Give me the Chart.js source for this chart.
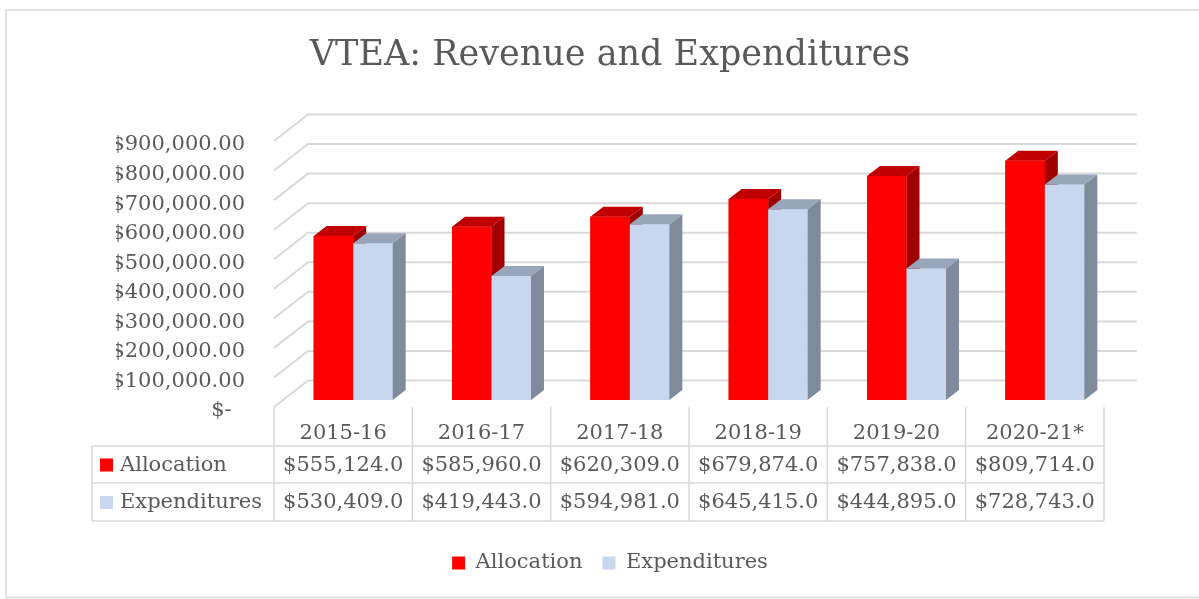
<!DOCTYPE html>
<html>
<head>
<meta charset="utf-8">
<title>VTEA: Revenue and Expenditures</title>
<script src="https://cdn.jsdelivr.net/npm/chart.js@4.4.1/dist/chart.umd.min.js"></script>
<style>
    html, body { margin: 0; padding: 0; background: #fff; }
    canvas { display: block; }
</style>
</head>
<body>
<canvas id="chart" width="1199" height="599"></canvas>
<script>
const years = ['2015-16', '2016-17', '2017-18', '2018-19', '2019-20', '2020-21*'];
const allocation = [555124, 585960, 620309, 679874, 757838, 809714];
const expenditures = [530409, 419443, 594981, 645415, 444895, 728743];
const yTickValues = [0, 100000, 200000, 300000, 400000, 500000, 600000, 700000, 800000, 900000];

const textGrey = '#595959';
const lineGrey = '#d9d9d9';
const fontFamily = '"DejaVu Serif", serif';

// 3d look
const shift = { x: 10, y: 7 };     // bars sit a little behind the front edge
const depth = { x: 13, y: 10 };    // bar depth
const wall = { x: 34, y: 26.5 };   // back wall offset
const faces = [
    { front: '#ff0000', top: '#c00000', side: '#a00000' },
    { front: '#c8d6ee', top: '#98a6bb', side: '#7f8a9c' },
];

const money = (v, digits) =>
    '$' + v.toLocaleString('en-US', { minimumFractionDigits: digits, maximumFractionDigits: digits });

function poly(ctx, pts) {
    ctx.beginPath();
    ctx.moveTo(pts[0][0], pts[0][1]);
    pts.slice(1).forEach(p => ctx.lineTo(p[0], p[1]));
    ctx.closePath();
    ctx.fill();
}

const bar3d = {
    id: 'bar3d',
    beforeDraw(chart) {
        const { ctx } = chart;
        ctx.save();
        ctx.fillStyle = '#fff';
        ctx.fillRect(0, 0, chart.width, chart.height);
        ctx.strokeStyle = lineGrey;
        ctx.lineWidth = 1.5;
        ctx.strokeRect(6, 10, chart.width + 20, chart.height - 11.5);
        ctx.restore();
    },
    beforeDatasetsDraw(chart) {
        const { ctx, chartArea: a, scales: { y } } = chart;
        ctx.save();
        ctx.strokeStyle = lineGrey;
        ctx.lineWidth = 2;
        y.ticks.forEach(t => {
            const py = y.getPixelForValue(t.value);
            ctx.beginPath();
            ctx.moveTo(a.left, py);
            ctx.lineTo(a.left + wall.x, py - wall.y);
            ctx.lineTo(a.right + wall.x - 1, py - wall.y);
            ctx.stroke();
        });
        ctx.restore();
        ctx.save();
        ctx.translate(shift.x, -shift.y);
    },
    afterDatasetsDraw(chart) {
        // redraw each pair left to right so the faces overlap the right way
        const ctx = chart.ctx;
        const metas = chart.data.datasets.map((d, i) => chart.getDatasetMeta(i));
        years.forEach((yr, i) => {
            metas.forEach((meta, d) => {
                const bar = meta.data[i];
                const f = faces[d];
                const { x, y, base, width } = bar.getProps(['x', 'y', 'base', 'width'], true);
                const l = x - width / 2;
                const r = x + width / 2;
                bar.draw(ctx);
                ctx.fillStyle = f.side;
                poly(ctx, [[r, y], [r + depth.x, y - depth.y], [r + depth.x, base - depth.y], [r, base]]);
                ctx.fillStyle = f.top;
                poly(ctx, [[l, y], [l + depth.x, y - depth.y], [r + depth.x, y - depth.y], [r, y]]);
            });
        });
        ctx.restore();
    },
};

const dataTable = {
    id: 'dataTable',
    afterDraw(chart) {
        const { ctx, chartArea: a, scales: { x } } = chart;
        const colW = (a.right - a.left) / years.length;
        const tableLeft = 92;
        const rowTop = [a.bottom, a.bottom + 39, a.bottom + 76, a.bottom + 114];
        const rows = [
            { name: 'Allocation', values: allocation, color: faces[0].front },
            { name: 'Expenditures', values: expenditures, color: faces[1].front },
        ];

        ctx.save();
        ctx.strokeStyle = lineGrey;
        ctx.lineWidth = 1.5;
        ctx.beginPath();
        for (let i = 0; i <= years.length; i++) {
            const px = a.left + i * colW;
            ctx.moveTo(px, rowTop[0]);
            ctx.lineTo(px, rowTop[3]);
        }
        ctx.moveTo(tableLeft, rowTop[1]);
        ctx.lineTo(tableLeft, rowTop[3]);
        for (let r = 1; r <= 3; r++) {
            ctx.moveTo(tableLeft, rowTop[r]);
            ctx.lineTo(a.right, rowTop[r]);
        }
        ctx.stroke();

        ctx.font = '21px ' + fontFamily;
        ctx.fillStyle = textGrey;
        ctx.textBaseline = 'middle';
        ctx.textAlign = 'center';
        years.forEach((yr, i) => ctx.fillText(yr, x.getPixelForTick(i), rowTop[0] + 27));

        rows.forEach((row, r) => {
            const cy = (rowTop[r + 1] + rowTop[r + 2]) / 2 + 1;
            ctx.textAlign = 'center';
            ctx.fillStyle = textGrey;
            row.values.forEach((v, i) => ctx.fillText(money(v, 1), x.getPixelForTick(i), cy));
            ctx.fillStyle = row.color;
            ctx.fillRect(100, cy - 7, 13, 13);
            ctx.fillStyle = textGrey;
            ctx.textAlign = 'left';
            ctx.fillText(row.name, 120, cy);
        });
        ctx.restore();
    },
};

Chart.defaults.font.family = fontFamily;
Chart.defaults.color = textGrey;

new Chart(document.getElementById('chart'), {
    type: 'bar',
    data: {
        labels: years,
        datasets: [
            {
                label: 'Allocation',
                data: allocation,
                backgroundColor: faces[0].front,
                borderWidth: 0,
                categoryPercentage: 0.571,
                barPercentage: 1,
                clip: false,
            },
            {
                label: 'Expenditures',
                data: expenditures,
                backgroundColor: faces[1].front,
                borderWidth: 0,
                categoryPercentage: 0.571,
                barPercentage: 1,
                clip: false,
            },
        ],
    },
    options: {
        responsive: false,
        animation: false,
        layout: {
            padding: { left: 116, right: 95, top: 0, bottom: 15.5 },
        },
        plugins: {
            title: {
                display: true,
                text: 'VTEA: Revenue and Expenditures',
                color: textGrey,
                font: { size: 35, weight: 'normal' },
                padding: { top: 35, bottom: 64 },
            },
            legend: {
                position: 'bottom',
                labels: {
                    boxWidth: 13,
                    boxHeight: 13,
                    padding: 20,
                    color: textGrey,
                    font: { size: 21 },
                },
            },
            tooltip: { enabled: false },
        },
        scales: {
            x: {
                grid: { display: false },
                border: { display: false },
                ticks: { display: false },
                afterFit: scale => { scale.height = 125.5; },
            },
            y: {
                min: 0,
                max: 900000,
                grid: { display: false, drawTicks: false },
                border: { display: false },
                ticks: {
                    padding: 29,
                    labelOffset: 4,
                    color: textGrey,
                    font: { size: 21 },
                    callback: v => (v === 0 ? '$-  ' : money(v, 2)),
                },
                afterBuildTicks: scale => {
                    scale.ticks = yTickValues.map(v => ({ value: v }));
                },
                afterFit: scale => { scale.width = 158; },
            },
        },
    },
    plugins: [bar3d, dataTable],
});
</script>
</body>
</html>
